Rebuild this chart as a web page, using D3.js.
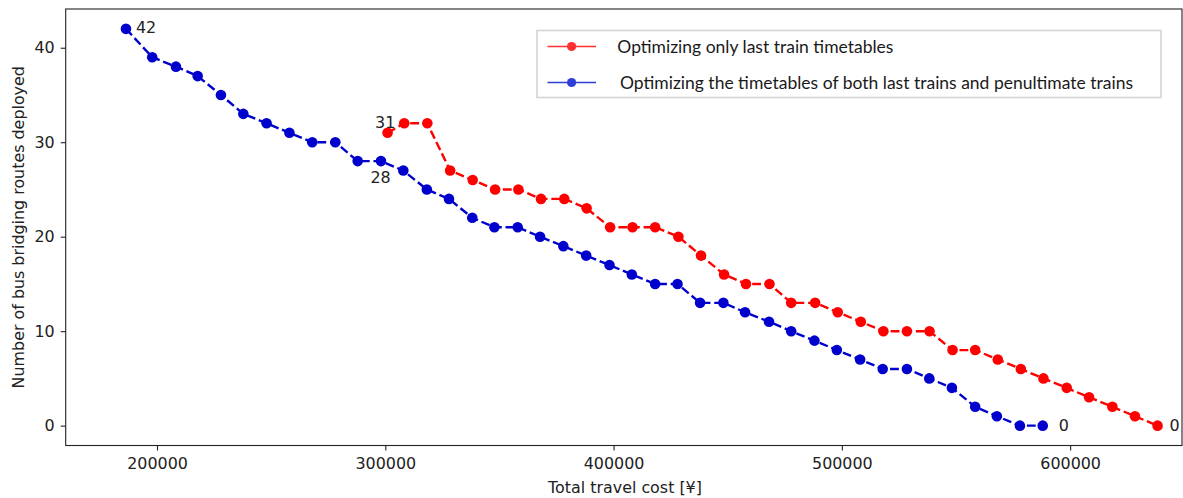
<!DOCTYPE html>
<html>
<head>
<meta charset="utf-8">
<script src="https://cdn.jsdelivr.net/npm/d3@7"></script>
<style>
  html, body { margin: 0; padding: 0; background: #fff; }
  svg { display: block; }
  .tick text { font-family: "DejaVu Sans", sans-serif; font-size: 15.9px; fill: #222; }
  .tick line { stroke: #222; stroke-width: 1.1; }
  .axis-label { font-family: "DejaVu Sans", sans-serif; font-size: 15.9px; fill: #222; }
  .note { font-family: "DejaVu Sans", sans-serif; font-size: 15.9px; fill: #222; }
  .legend-text { font-family: Lato, "Open Sans", sans-serif; font-size: 17.5px; fill: #1a1a1a; }
</style>
</head>
<body>
<svg id="chart" width="1183" height="498"></svg>
<script>
// Total travel cost (¥) and number of bus bridging routes, per solution
const costLastOnly = [301000, 308300, 318400, 328400, 338300, 348100, 358300, 368200, 378400, 388200,
                      398500, 408300, 418200, 428400, 438300, 448400, 458000, 468300, 477800, 488300,
                      498200, 508300, 518200, 528500, 538400, 548500, 558400, 568300, 578400, 588300,
                      598500, 608300, 618500, 628400, 638300];
const routesLastOnly = [31, 32, 32, 27, 26, 25, 25, 24, 24, 23,
                        21, 21, 21, 20, 18, 16, 15, 15, 13, 13,
                        12, 11, 10, 10, 10, 8, 8, 7, 6, 5,
                        4, 3, 2, 1, 0];

const costBoth = [186400, 197900, 208300, 217800, 228000, 237800, 248000, 258000, 268000, 278100,
                  287900, 298100, 307900, 318200, 327900, 338100, 347800, 358000, 367800, 378000,
                  388000, 398200, 408000, 418200, 428000, 437900, 448100, 457600, 468100, 477800,
                  488000, 497800, 508000, 517900, 528500, 538300, 548200, 558400, 567900, 578000,
                  588000];
const routesBoth = [42, 39, 38, 37, 35, 33, 32, 31, 30, 30,
                    28, 28, 27, 25, 24, 22, 21, 21, 20, 19,
                    18, 17, 16, 15, 15, 13, 13, 12, 11, 10,
                    9, 8, 7, 6, 6, 5, 4, 2, 1, 0,
                    0];

const seriesNames = ["Optimizing only last train timetables",
                     "Optimizing the timetables of both last trains and penultimate trains"];
const xTicks = [200000, 300000, 400000, 500000, 600000];
const yTicks = [0, 10, 20, 30, 40];
const xTitle = "Total travel cost [¥]";
const yTitle = "Number of bus bridging routes deployed";

// series index, point index, label offset (dx, dy)
const notes = [
  { s: 1, i: 0, dx: 10, dy: 4.5 },
  { s: 1, i: 11, dx: -10.5, dy: 22 },
  { s: 1, i: routesBoth.length - 1, dx: 16, dy: 5 },
  { s: 0, i: 0, dx: -12.5, dy: -4.5 },
  { s: 0, i: routesLastOnly.length - 1, dx: 12, dy: 5 }
];

const series = [
  { name: seriesNames[0], color: "#ff0000", legendColor: "#ff3030",
    points: costLastOnly.map((c, i) => ({ x: c, y: routesLastOnly[i] })) },
  { name: seriesNames[1], color: "#0000cd", legendColor: "#2f3fd6",
    points: costBoth.map((c, i) => ({ x: c, y: routesBoth[i] })) }
];

const plot = { left: 65.7, right: 1182, top: 9, bottom: 445.5 };

const x = d3.scaleLinear().domain([160000, 649000]).range([plot.left, plot.right]);
const y = d3.scaleLinear().domain([-2.1, 44.1]).range([plot.bottom, plot.top]);

const svg = d3.select("#chart");

// series lines + markers
const line = d3.line().x(d => x(d.x)).y(d => y(d.y));
series.forEach(s => {
  const g = svg.append("g");
  g.append("path")
    .datum(s.points)
    .attr("d", line)
    .attr("fill", "none")
    .attr("stroke", s.color)
    .attr("stroke-width", 2.4)
    .attr("stroke-dasharray", "8.8,3.8");
  g.selectAll("circle")
    .data(s.points)
    .join("circle")
    .attr("cx", d => x(d.x))
    .attr("cy", d => y(d.y))
    .attr("r", 5.3)
    .attr("fill", s.color);
});

// value labels at selected points
notes.forEach(n => {
  const p = series[n.s].points[n.i];
  svg.append("text")
    .attr("class", "note")
    .attr("x", x(p.x) + n.dx)
    .attr("y", y(p.y) + n.dy)
    .text(p.y);
});

// axes
const xAxis = d3.axisBottom(x).tickValues(xTicks).tickFormat(d3.format("d"))
  .tickSize(5).tickPadding(7.5);
const yAxis = d3.axisLeft(y).tickValues(yTicks).tickFormat(d3.format("d"))
  .tickSize(5).tickPadding(6);

const gx = svg.append("g").attr("transform", `translate(0,${plot.bottom})`).call(xAxis);
const gy = svg.append("g").attr("transform", `translate(${plot.left},0)`).call(yAxis);
gx.select(".domain").remove();
gy.select(".domain").remove();

// frame
svg.append("rect")
  .attr("x", plot.left).attr("y", plot.top)
  .attr("width", plot.right - plot.left).attr("height", plot.bottom - plot.top)
  .attr("fill", "none").attr("stroke", "#222").attr("stroke-width", 1.1);

// axis titles
svg.append("text")
  .attr("class", "axis-label")
  .attr("x", 625).attr("y", 493)
  .attr("text-anchor", "middle")
  .text(xTitle);

svg.append("text")
  .attr("class", "axis-label")
  .attr("transform", "rotate(-90)")
  .attr("x", -(plot.top + plot.bottom) / 2).attr("y", 24)
  .attr("text-anchor", "middle")
  .text(yTitle);

// legend
const legend = svg.append("g");
legend.append("rect")
  .attr("x", 537).attr("y", 30.5).attr("width", 624).attr("height", 67)
  .attr("fill", "#fff").attr("stroke", "#d4d4d4").attr("stroke-width", 1.6);

const rows = [46.5, 82.5];
const textStart = [617.3, 620];
series.forEach((s, i) => {
  const row = legend.append("g").attr("transform", `translate(0,${rows[i]})`);
  row.append("line")
    .attr("x1", 547.5).attr("x2", 596).attr("y1", 0).attr("y2", 0)
    .attr("stroke", s.legendColor).attr("stroke-width", 1.6);
  row.append("circle")
    .attr("cx", 571.6).attr("cy", 0).attr("r", 4.6)
    .attr("fill", s.legendColor);
  row.append("text")
    .attr("class", "legend-text")
    .attr("x", textStart[i]).attr("y", 0).attr("dy", "0.35em")
    .text(s.name);
});
</script>
</body>
</html>
